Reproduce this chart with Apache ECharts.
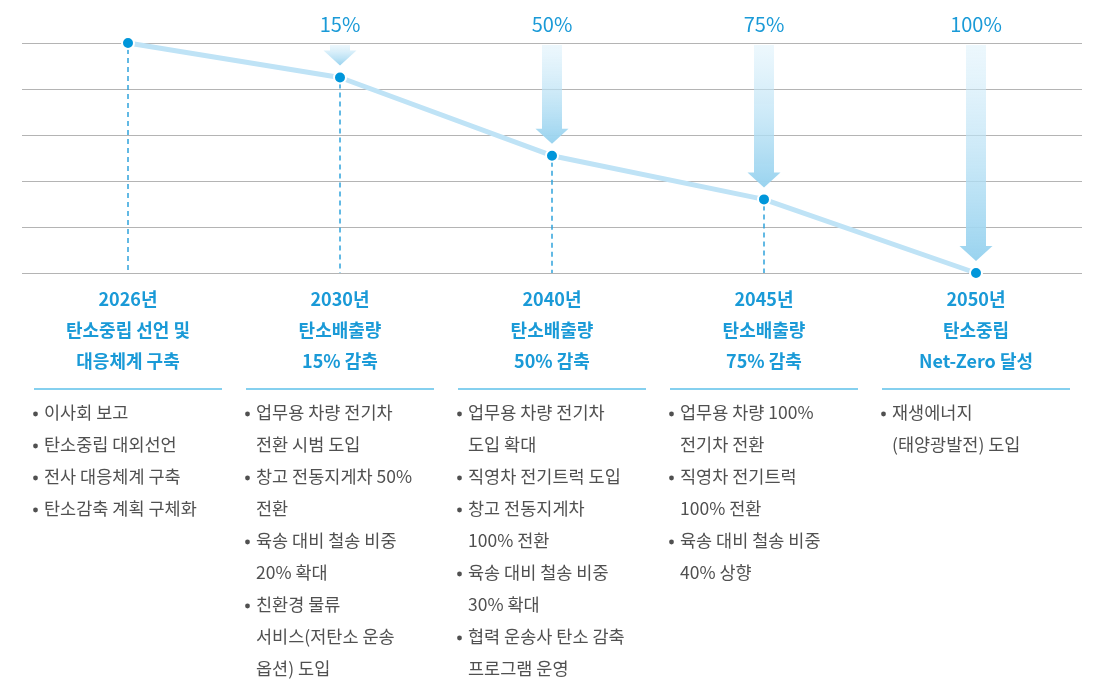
<!DOCTYPE html>
<html>
<head>
  <meta charset="utf-8" />
  <title>탄소중립 로드맵</title>
  <script src="https://cdn.jsdelivr.net/npm/echarts@6/dist/echarts.min.js"></script>
</head>
<style>
  body { margin: 0; padding: 0; overflow: hidden; background: #fff; }
</style>
<body>
  <div id="main" style="width: 1101px;height: 681px;"></div>
  <script type="text/javascript">
    // 연도 / 단계 제목
    const years = ['2026년', '2030년', '2040년', '2045년', '2050년'];
    const titles = [
      ['탄소중립 선언 및', '대응체계 구축'],
      ['탄소배출량', '15% 감축'],
      ['탄소배출량', '50% 감축'],
      ['탄소배출량', '75% 감축'],
      ['탄소중립', 'Net-Zero 달성']
    ];
    // 배출량 추이 (2026년 = 100)
    const emission = [100, 85, 51, 32, 0];
    // 감축 목표
    const targets = ['', '15%', '50%', '75%', '100%'];
    // 단계별 추진 과제 (줄바꿈 단위)
    const plans = [
      [['이사회 보고'], ['탄소중립 대외선언'], ['전사 대응체계 구축'], ['탄소감축 계획 구체화']],
      [['업무용 차량 전기차', '전환 시범 도입'], ['창고 전동지게차 50%', '전환'], ['육송 대비 철송 비중', '20% 확대'], ['친환경 물류', '서비스(저탄소 운송', '옵션) 도입']],
      [['업무용 차량 전기차', '도입 확대'], ['직영차 전기트럭 도입'], ['창고 전동지게차', '100% 전환'], ['육송 대비 철송 비중', '30% 확대'], ['협력 운송사 탄소 감축', '프로그램 운영']],
      [['업무용 차량 100%', '전기차 전환'], ['직영차 전기트럭', '100% 전환'], ['육송 대비 철송 비중', '40% 상향']],
      [['재생에너지', '(태양광발전) 도입']]
    ];

    const BLUE = '#1a9ad7';
    const GRAY = '#505050';
    const FONT = '"Noto Sans CJK KR", "Noto Sans", sans-serif';

    const myChart = echarts.init(document.getElementById('main'));

    function renderItem(params, api) {
      const i = api.value(0);
      const pt = api.coord([i, api.value(1)]);
      const top = api.coord([i, 100])[1];
      const base = api.coord([i, 0])[1];
      const x = pt[0];
      const children = [];

      // 점에서 바닥선까지 점선
      if (base - pt[1] > 8) {
        children.push({
          type: 'line',
          shape: { x1: x, y1: pt[1] + 6, x2: x, y2: base },
          style: { stroke: '#2fa2dc', lineWidth: 1.5, lineDash: [5, 4] }
        });
      }

      // 감축 화살표
      if (targets[i]) {
        const aTop = top + 2;
        const tip = pt[1] - 12;
        const headH = Math.min(15, tip - aTop);
        const hs = tip - headH;
        const pts = [[x - 10, aTop], [x + 10, aTop], [x + 10, hs], [x + 16.5, hs], [x, tip], [x - 16.5, hs], [x - 10, hs]];
        children.push({
          type: 'polygon',
          shape: { points: pts },
          style: {
            fill: new echarts.graphic.LinearGradient(0, 0, 0, 1, [
              { offset: 0, color: 'rgba(214,238,250,0.45)' },
              { offset: 1, color: '#99d3ef' }
            ])
          }
        });
      }

      // 구분선
      const ruleY = base + 116;
      children.push({
        type: 'line',
        shape: { x1: x - 94, y1: ruleY, x2: x + 94, y2: ruleY },
        style: { stroke: '#5cc0ea', lineWidth: 1.5 }
      });

      // 추진 과제
      let ly = base + 139;
      plans[i].forEach(item => {
        children.push({
          type: 'circle',
          shape: { cx: x - 92.5, cy: ly + 2, r: 2.4 },
          style: { fill: GRAY }
        });
        item.forEach(line => {
          children.push({
            type: 'text',
            style: {
              text: line, x: x - 84, y: ly, align: 'left', verticalAlign: 'middle',
              fill: GRAY, font: '17.5px ' + FONT
            }
          });
          ly += 32;
        });
      });

      return { type: 'group', children: children };
    }

    const option = {
      animation: false,
      grid: { left: 22, right: 19, top: 43, height: 230 },
      xAxis: [
        {
          type: 'category',
          data: years,
          position: 'bottom',
          axisLine: { show: false },
          axisTick: { show: false },
          axisLabel: {
            margin: 11,
            interval: 0,
            lineHeight: 31,
            fontFamily: FONT,
            fontSize: 18,
            fontWeight: 'bold',
            color: BLUE,
            formatter: (v, idx) => [v].concat(titles[idx]).join('\n')
          }
        },
        {
          type: 'category',
          data: targets,
          position: 'top',
          axisLine: { show: false },
          axisTick: { show: false },
          axisLabel: {
            margin: 9,
            interval: 0,
            fontFamily: FONT,
            fontSize: 20,
            color: BLUE
          }
        }
      ],
      yAxis: {
        type: 'value',
        min: 0,
        max: 100,
        interval: 20,
        axisLabel: { show: false },
        axisLine: { show: false },
        axisTick: { show: false },
        splitLine: { lineStyle: { color: '#b4b4b4', width: 1 } }
      },
      series: [
        {
          type: 'custom',
          renderItem: renderItem,
          clip: false,
          z: 1,
          data: emission.map((v, i) => [i, v])
        },
        {
          type: 'line',
          data: emission,
          z: 3,
          symbol: 'circle',
          symbolSize: 12,
          lineStyle: { color: '#bfe3f6', width: 5 },
          itemStyle: { color: '#0096da', borderColor: '#fff', borderWidth: 2 }
        }
      ]
    };
    myChart.setOption(option);
  </script>
</body>
</html>
